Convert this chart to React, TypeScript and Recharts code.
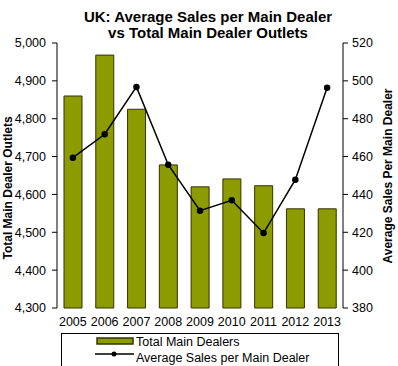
import { Bar, ComposedChart, Legend, Line, XAxis, YAxis } from 'recharts';

const years = ['2005', '2006', '2007', '2008', '2009', '2010', '2011', '2012', '2013'];
const totalMainDealers = [4860, 4968, 4825, 4678, 4620, 4641, 4623, 4562, 4562];
const avgSalesPerDealer = [459.4, 471.8, 496.8, 455.7, 431.4, 436.9, 419.6, 447.8, 496.4];
const leftTicks = [4300, 4400, 4500, 4600, 4700, 4800, 4900, 5000];
const rightTicks = [380, 400, 420, 440, 460, 480, 500, 520];
const boundaryTicks = [0, 1, 2, 3, 4, 5, 6, 7, 8, 9];

const data = years.map((year, i) => ({
  year,
  idx: i + 0.5,
  dealers: totalMainDealers[i],
  avgSales: avgSalesPerDealer[i],
}));

const FONT = '"Liberation Sans", Arial, sans-serif';
const BAR_FILL = '#8C9C00';
const BAR_STROKE = '#333300';

const fmt = (v: number) => v.toLocaleString('en-US');

// rotated axis title at a fixed spot
const sideLabel = (text: string, x: number, y: number) => () => (
  <text
    x={x}
    y={y}
    transform={`rotate(-90 ${x} ${y})`}
    textAnchor="middle"
    dominantBaseline="central"
    fontFamily={FONT}
    fontSize={12}
    fontWeight="bold"
    fill="#000"
  >
    {text}
  </text>
);

const ChartLegend = () => (
  <div
    style={{
      width: 278,
      height: 40,
      border: '1px solid #000',
      boxSizing: 'border-box',
      position: 'relative',
    }}
  >
    <svg width={278} height={40} style={{ position: 'absolute', left: 0, top: 0 }}>
      <rect x={35} y={4} width={36} height={6} fill={BAR_FILL} stroke={BAR_STROKE} strokeWidth={1.5} />
      <text x={74} y={12} fontSize={12.5} fontFamily={FONT}>Total Main Dealers</text>
      <line x1={33} x2={72} y1={20} y2={20} stroke="#000" strokeWidth={1.5} />
      <circle cx={52} cy={20} r={2.5} fill="#000" />
      <text x={74} y={28} fontSize={12.5} fontFamily={FONT}>Average Sales per Main Dealer</text>
    </svg>
  </div>
);

export default function App() {
  return (
    <div style={{ position: 'absolute', left: 0, top: 0, width: 398, height: 366, background: '#fff' }}>
      <div
        style={{
          position: 'absolute',
          left: 0,
          top: 9,
          width: 416,
          textAlign: 'center',
          fontFamily: FONT,
          fontWeight: 'bold',
          fontSize: 15,
          lineHeight: '16px',
          color: '#000',
          zIndex: 2,
        }}
      >
        UK: Average Sales per Main Dealer
        <br />
        vs Total Main Dealer Outlets
      </div>
      <ComposedChart
        width={398}
        height={366}
        data={data}
        margin={{ top: 43, right: 0, bottom: 0, left: 0 }}
        barCategoryGap={0}
      >
        <XAxis
          xAxisId="grid"
          dataKey="idx"
          type="number"
          domain={[0, 9]}
          ticks={boundaryTicks}
          tick={false}
          tickSize={4}
          axisLine={{ stroke: '#000' }}
          tickLine={{ stroke: '#000' }}
          height={0}
        />
        <XAxis
          xAxisId="cat"
          dataKey="year"
          axisLine={false}
          tickLine={false}
          height={58}
          tickMargin={3}
          tick={{ fontFamily: FONT, fontSize: 12.5, fill: '#000' }}
        />
        <YAxis
          yAxisId="left"
          domain={[4300, 5000]}
          ticks={leftTicks}
          tickFormatter={fmt}
          width={57}
          tickSize={5}
          tickMargin={6}
          axisLine={{ stroke: '#000' }}
          tickLine={{ stroke: '#000' }}
          tick={{ fontFamily: FONT, fontSize: 12.5, fill: '#000' }}
          label={{ content: sideLabel('Total Main Dealer Outlets', 8, 188) }}
        />
        <YAxis
          yAxisId="right"
          orientation="right"
          domain={[380, 520]}
          ticks={rightTicks}
          width={55}
          tickSize={5}
          tickMargin={4}
          axisLine={{ stroke: '#000' }}
          tickLine={{ stroke: '#000' }}
          tick={{ fontFamily: FONT, fontSize: 12.5, fill: '#000' }}
          label={{ content: sideLabel('Average Sales Per Main Dealer', 388, 176) }}
        />
        <Legend
          layout="horizontal"
          verticalAlign="middle"
          align="center"
          wrapperStyle={{ left: 61, top: 333, width: 278, height: 40 }}
          content={() => <ChartLegend />}
        />
        <Bar
          xAxisId="cat"
          yAxisId="left"
          dataKey="dealers"
          name="Total Main Dealers"
          barSize={18}
          fill={BAR_FILL}
          stroke={BAR_STROKE}
          strokeWidth={1}
          isAnimationActive={false}
        />
        <Line
          xAxisId="cat"
          yAxisId="right"
          dataKey="avgSales"
          name="Average Sales per Main Dealer"
          stroke="#000"
          strokeWidth={1.5}
          dot={{ r: 2.5, fill: '#000', stroke: '#000' }}
          isAnimationActive={false}
        />
      </ComposedChart>
    </div>
  );
}
